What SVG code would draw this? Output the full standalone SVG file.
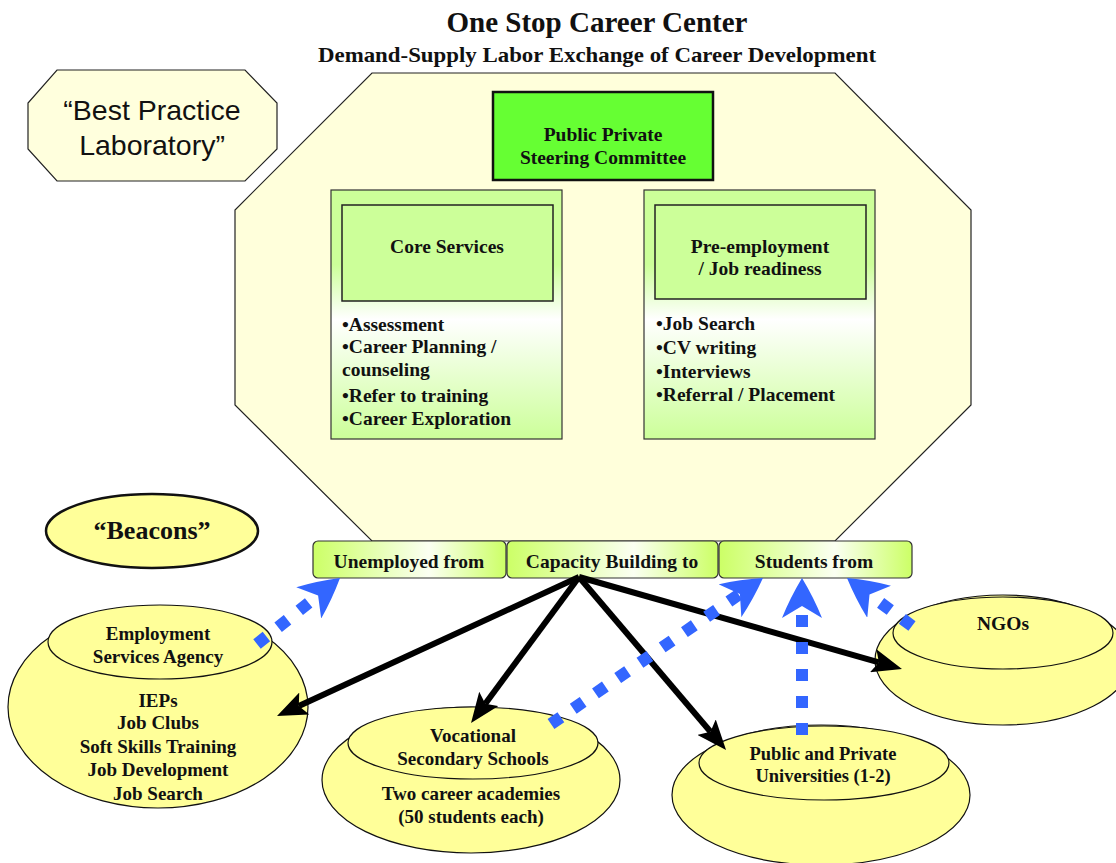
<svg xmlns="http://www.w3.org/2000/svg" width="1116" height="863" viewBox="0 0 1116 863">
<style>
.t{font-family:"Liberation Serif","Times New Roman",serif;font-weight:bold;fill:#111;}
.c{text-anchor:middle;}
.s{font-family:"Liberation Sans",Arial,sans-serif;fill:#111;text-anchor:middle;}
.ell{fill:#FFFF99;stroke:#111;stroke-width:1.2;}
.tab{fill:url(#tabGrad);stroke:#333;stroke-width:1.2;}
.blk{fill:none;stroke:#000;stroke-width:6;}
.blu{fill:none;stroke:#3366FF;stroke-width:12;stroke-dasharray:12 15;}
</style>
<defs>
<linearGradient id="tabGrad" x1="0" y1="0" x2="1" y2="0">
<stop offset="0" stop-color="#CCFF66"/>
<stop offset="0.6" stop-color="#FBFFF2"/>
<stop offset="1" stop-color="#CCFF66"/>
</linearGradient>
<linearGradient id="boxGrad" x1="0" y1="0" x2="0" y2="1">
<stop offset="0" stop-color="#CCFF99"/>
<stop offset="0.3" stop-color="#CCFF99"/>
<stop offset="0.52" stop-color="#FFFFFF"/>
<stop offset="1" stop-color="#CCFF99"/>
</linearGradient>
<marker id="ah" viewBox="0 0 10 8" refX="2" refY="4" markerWidth="5" markerHeight="4" orient="auto" markerUnits="strokeWidth">
<path d="M0,0 L10,4 L0,8 L2,4 z" fill="#000"/>
</marker>
<marker id="bh" viewBox="0 0 40 40" refX="12" refY="20" markerWidth="40" markerHeight="40" orient="auto" markerUnits="userSpaceOnUse">
<path d="M40,20 Q20,8 0,0 L12,20 L0,40 Q20,32 40,20 z" fill="#3366FF"/>
</marker>
</defs>

<g id="title">
<text class="t c" x="597" y="32" font-size="29">One Stop Career Center</text>
<text class="t c" x="597" y="62" font-size="22" textLength="558" lengthAdjust="spacingAndGlyphs">Demand-Supply Labor Exchange of Career Development</text>
</g>

<g id="best-practice">
<polygon points="57,70 245,70 277,103 277,149 245,181 57,181 28,149 28,103" fill="#FFFFDD" stroke="#222" stroke-width="1.2"/>
<text class="s" x="152" y="120" font-size="28.5">“Best Practice</text>
<text class="s" x="152" y="155" font-size="28.5">Laboratory”</text>
</g>

<g id="career-center">
<polygon points="372,73 835,73 971,210 971,405 835,541 372,541 235,405 235,210" fill="#FFFFDB" stroke="#222" stroke-width="1.2"/>
</g>

<g id="steering-committee">
<rect x="493" y="92" width="220" height="88" fill="#66FF33" stroke="#111" stroke-width="2.5"/>
<text class="t c" x="603" y="141" font-size="19.5">Public Private</text>
<text class="t c" x="603" y="164" font-size="19.5">Steering Committee</text>
</g>

<g id="core-services">
<rect x="331" y="190" width="231" height="249" fill="url(#boxGrad)" stroke="#333" stroke-width="1.2"/>
<rect x="342" y="205" width="211" height="96" fill="#CCFF99" stroke="#222" stroke-width="1.5"/>
<text class="t c" x="447" y="253" font-size="19.5">Core Services</text>
<text class="t" x="342" y="331" font-size="19.5">•Assessment</text>
<text class="t" x="342" y="353" font-size="19.5">•Career Planning /</text>
<text class="t" x="342" y="376" font-size="19.5">counseling</text>
<text class="t" x="342" y="402" font-size="19.5">•Refer to training</text>
<text class="t" x="342" y="425" font-size="19.5">•Career Exploration</text>
</g>

<g id="pre-employment">
<rect x="644" y="190" width="231" height="249" fill="url(#boxGrad)" stroke="#333" stroke-width="1.2"/>
<rect x="655" y="205" width="211" height="94" fill="#CCFF99" stroke="#222" stroke-width="1.5"/>
<text class="t c" x="760" y="253" font-size="19.5">Pre-employment</text>
<text class="t c" x="760" y="275" font-size="19.5">/ Job readiness</text>
<text class="t" x="656" y="330" font-size="19.5">•Job Search</text>
<text class="t" x="656" y="354" font-size="19.5">•CV writing</text>
<text class="t" x="656" y="378" font-size="19.5">•Interviews</text>
<text class="t" x="656" y="401" font-size="19.5">•Referral / Placement</text>
</g>

<g id="tab-unemployed">
<rect class="tab" x="313" y="541" width="193" height="37" rx="5"/>
<text class="t c" x="409" y="568" font-size="19.5">Unemployed from</text>
</g>
<g id="tab-capacity">
<rect class="tab" x="507" y="541" width="211" height="37" rx="5"/>
<text class="t c" x="612" y="568" font-size="19.5">Capacity Building to</text>
</g>
<g id="tab-students">
<rect class="tab" x="719" y="541" width="193" height="37" rx="5"/>
<text class="t c" x="814" y="568" font-size="19.5">Students from</text>
</g>

<g id="beacons">
<ellipse cx="152" cy="531" rx="106" ry="37" fill="#FFFF99" stroke="#111" stroke-width="2.5"/>
<text class="t c" x="152" y="539" font-size="26">“Beacons”</text>
</g>

<g id="employment-agency">
<ellipse class="ell" cx="158" cy="707" rx="150" ry="101"/>
<ellipse class="ell" cx="160" cy="642" rx="112" ry="37"/>
<text class="t c" x="158" y="640" font-size="19">Employment</text>
<text class="t c" x="158" y="663" font-size="19">Services Agency</text>
<text class="t c" x="158" y="707" font-size="19">IEPs</text>
<text class="t c" x="158" y="729" font-size="19">Job Clubs</text>
<text class="t c" x="158" y="753" font-size="19">Soft Skills  Training</text>
<text class="t c" x="158" y="776" font-size="19">Job Development</text>
<text class="t c" x="158" y="800" font-size="19">Job Search</text>
</g>

<g id="vocational">
<ellipse class="ell" cx="471" cy="780" rx="149" ry="73"/>
<ellipse class="ell" cx="473" cy="743" rx="125" ry="36"/>
<text class="t c" x="473" y="742" font-size="19">Vocational</text>
<text class="t c" x="473" y="765" font-size="19">Secondary Schools</text>
<text class="t c" x="471" y="800" font-size="19">Two career academies</text>
<text class="t c" x="471" y="823" font-size="19">(50 students  each)</text>
</g>

<g id="universities">
<ellipse class="ell" cx="821" cy="795" rx="149" ry="70"/>
<ellipse class="ell" cx="824" cy="763" rx="125" ry="37"/>
<text class="t c" x="823" y="760" font-size="18.5">Public and Private</text>
<text class="t c" x="823" y="782" font-size="18.5">Universities (1-2)</text>
</g>

<g id="ngos">
<ellipse class="ell" cx="1003" cy="660" rx="128" ry="65"/>
<ellipse class="ell" cx="1003" cy="633" rx="110" ry="36"/>
<text class="t c" x="1003" y="630" font-size="19.5">NGOs</text>
</g>

<g id="connectors">
<line class="blk" x1="579" y1="577" x2="298.8" y2="706" marker-end="url(#ah)"/>
<line class="blk" x1="579" y1="577" x2="485.3" y2="703.7" marker-end="url(#ah)"/>
<line class="blk" x1="579" y1="577" x2="710.5" y2="731.7" marker-end="url(#ah)"/>
<line class="blk" x1="579" y1="577" x2="878.9" y2="662.4" marker-end="url(#ah)"/>
<line class="blu" x1="257" y1="644" x2="318.1" y2="595.4" marker-end="url(#bh)"/>
<line class="blu" x1="551" y1="724" x2="739.9" y2="593.9" marker-end="url(#bh)"/>
<line class="blu" x1="802" y1="735" x2="802" y2="606" marker-end="url(#bh)"/>
<line class="blu" x1="912" y1="626" x2="869.5" y2="594.6" marker-end="url(#bh)"/>
</g>
</svg>
